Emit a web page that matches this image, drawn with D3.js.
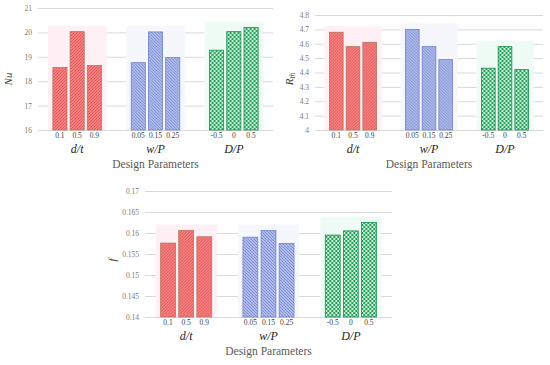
<!DOCTYPE html>
<html>
<head>
<meta charset="utf-8">
<script src="https://cdn.jsdelivr.net/npm/d3@7"></script>
<style>
  body { margin: 0; background: #fff; }
</style>
</head>
<body>
<div id="chart"></div>
<script>
// DATA
const groups = ['d/t', 'w/P', 'D/P'];
const levels = [['0.1', '0.5', '0.9'], ['0.05', '0.15', '0.25'], ['-0.5', '0', '0.5']];

const nuValues = [[18.56, 20.03, 18.64], [18.76, 20.02, 18.97], [19.27, 20.03, 20.2]];
const nuTicks = [16, 17, 18, 19, 20, 21];

const rthValues = [[4.68, 4.58, 4.61], [4.70, 4.58, 4.49], [4.43, 4.58, 4.42]];
const rthTicks = [4, 4.1, 4.2, 4.3, 4.4, 4.5, 4.6, 4.7, 4.8];

const fValues = [[0.1576, 0.1606, 0.1591], [0.1590, 0.1606, 0.1575], [0.1595, 0.1605, 0.1625]];
const fTicks = [0.14, 0.145, 0.15, 0.155, 0.16, 0.165, 0.17];

const width = 550, height = 365;
const serif = "'Liberation Serif'";

const svg = d3.select('#chart').append('svg')
  .attr('width', width)
  .attr('height', height);

// PATTERNS
const defs = svg.append('defs');

const red = defs.append('pattern').attr('id', 'pRed')
  .attr('patternUnits', 'userSpaceOnUse').attr('width', 3).attr('height', 3);
red.append('rect').attr('width', 3).attr('height', 3).attr('fill', '#f58282');
red.append('path').attr('d', 'M0,3 L3,0 M-1,1 L1,-1 M2,4 L4,2')
  .attr('stroke', '#e25555').attr('stroke-width', 1);

const blue = defs.append('pattern').attr('id', 'pBlue')
  .attr('patternUnits', 'userSpaceOnUse').attr('width', 3).attr('height', 3);
blue.append('rect').attr('width', 3).attr('height', 3).attr('fill', '#adb9e8');
blue.append('path').attr('d', 'M0,0 L3,3 M-1,2 L1,4 M2,-1 L4,1')
  .attr('stroke', '#8494d8').attr('stroke-width', 1);

const green = defs.append('pattern').attr('id', 'pGreen')
  .attr('patternUnits', 'userSpaceOnUse').attr('width', 4).attr('height', 4);
green.append('rect').attr('width', 4).attr('height', 4).attr('fill', '#cdeed8');
green.append('rect').attr('width', 2).attr('height', 2).attr('fill', '#22a258');
green.append('rect').attr('x', 2).attr('y', 2).attr('width', 2).attr('height', 2).attr('fill', '#22a258');

const fills = ['url(#pRed)', 'url(#pBlue)', 'url(#pGreen)'];
const strokes = ['#b9735e', '#7082c6', '#1a8a4e'];
const halos = ['#fff0f6', '#f5f7fd', '#effcf6'];

function drawPanel(opts) {
  const g = svg.append('g');
  const y = d3.scaleLinear()
    .domain([opts.ticks[0], opts.ticks[opts.ticks.length - 1]])
    .range([opts.bottom, opts.top]);
  const x0 = d3.scaleBand().domain(groups)
    .range([opts.left, opts.right])
    .paddingInner(0.38).paddingOuter(0.19);
  const x1 = d3.scaleBand().domain([0, 1, 2])
    .range([0, x0.bandwidth()])
    .paddingInner(0.18);

  // gridlines + tick labels
  const axis = d3.axisLeft(y).tickValues(opts.ticks)
    .tickSize(-(opts.right - opts.left)).tickPadding(6)
    .tickFormat(d => String(+d.toFixed(4)));
  const ax = g.append('g').attr('transform', `translate(${opts.left},0)`).call(axis);
  ax.select('.domain').remove();
  ax.selectAll('.tick line').attr('stroke', '#d9d9d9');
  ax.selectAll('.tick text').attr('fill', '#7a7a7a')
    .style('font-family', serif)
    .style('font-size', '7.5px');

  // bars
  const grp = g.selectAll('g.grp').data(groups).enter().append('g')
    .attr('class', 'grp')
    .attr('transform', d => `translate(${x0(d)},0)`);

  grp.append('rect')
    .attr('x', -5)
    .attr('width', x0.bandwidth() + 10)
    .attr('y', (d, i) => y(d3.max(opts.values[i])) - 6)
    .attr('height', (d, i) => opts.bottom - y(d3.max(opts.values[i])) + 6)
    .attr('fill', (d, i) => halos[i]);

  grp.each(function(gname, gi) {
    const sel = d3.select(this);
    sel.selectAll('rect.bar').data(opts.values[gi]).enter().append('rect')
      .attr('class', 'bar')
      .attr('x', (d, i) => x1(i))
      .attr('width', x1.bandwidth())
      .attr('y', d => y(d))
      .attr('height', d => opts.bottom - y(d))
      .attr('fill', fills[gi])
      .attr('stroke', strokes[gi])
      .attr('stroke-width', 0.8);

    sel.selectAll('text.lvl').data(levels[gi]).enter().append('text')
      .attr('class', 'lvl')
      .attr('x', (d, i) => x1(i) + x1.bandwidth() / 2)
      .attr('y', opts.bottom + 8)
      .attr('text-anchor', 'middle')
      .attr('fill', '#404040')
      .style('font-family', serif)
      .style('font-size', '7.5px')
      .text(d => d);

    sel.append('text')
      .attr('x', x0.bandwidth() / 2)
      .attr('y', opts.bottom + 23)
      .attr('text-anchor', 'middle')
      .attr('fill', '#262626')
      .style('font-family', serif)
      .style('font-size', '12px')
      .style('font-style', 'italic')
      .text(gname);
  });

  g.append('text')
    .attr('x', (opts.left + opts.right) / 2)
    .attr('y', opts.bottom + 38)
    .attr('text-anchor', 'middle')
    .attr('fill', '#595959')
    .style('font-family', serif)
    .style('font-size', '11.5px')
    .text('Design Parameters');

  // y title
  const t = g.append('text')
    .attr('transform', `translate(${opts.titleX},${opts.titleY}) rotate(-90)`)
    .attr('text-anchor', 'middle')
    .attr('fill', '#404040')
    .style('font-family', serif)
    .style('font-size', '11px')
    .style('font-style', 'italic');
  t.append('tspan').text(opts.title);
  if (opts.sub) {
    t.append('tspan').attr('dy', 2).style('font-size', '7.5px').text(opts.sub);
  }
}

drawPanel({ left: 38, right: 273, top: 8, bottom: 130, ticks: nuTicks, values: nuValues,
  title: 'Nu', titleX: 12, titleY: 79 });
drawPanel({ left: 315, right: 543, top: 15, bottom: 130, ticks: rthTicks, values: rthValues,
  title: 'R', sub: 'th', titleX: 293, titleY: 79 });
drawPanel({ left: 145, right: 392, top: 191, bottom: 317, ticks: fTicks, values: fValues,
  title: 'f', titleX: 116, titleY: 260 });
</script>
</body>
</html>
